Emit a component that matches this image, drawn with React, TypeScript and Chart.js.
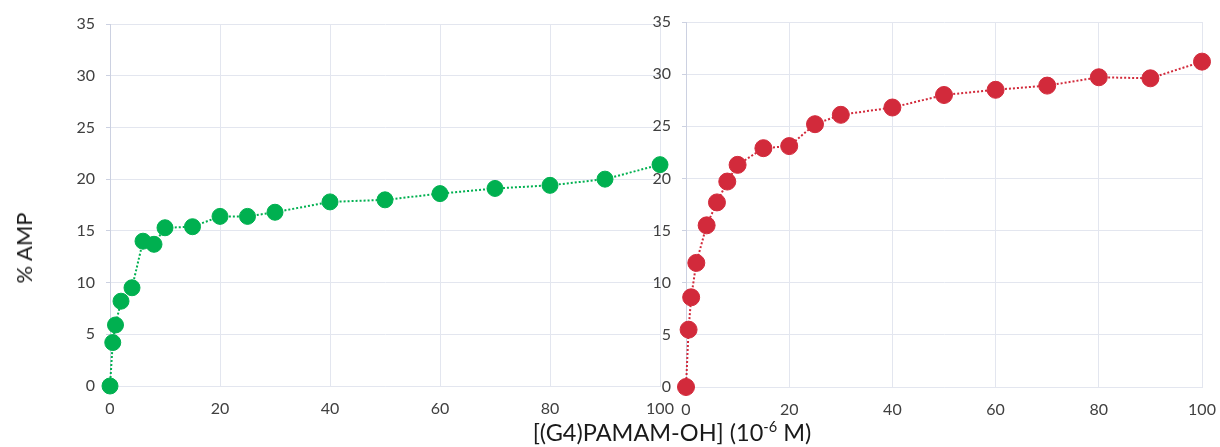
import React, { useEffect, useRef } from "react";
import { Chart, registerables } from "chart.js";

Chart.register(...registerables);

// Concentration of [(G4)PAMAM-OH] in 10^-6 M
const concentrations = [0, 0.5, 1, 2, 4, 6, 8, 10, 15, 20, 25, 30, 40, 50, 60, 70, 80, 90, 100];
// % AMP, left panel (green)
const greenValues = [0, 4.2, 5.9, 8.2, 9.5, 14.0, 13.7, 15.3, 15.4, 16.4, 16.4, 16.8, 17.8, 18.0, 18.6, 19.1, 19.4, 20.0, 21.4];
// % AMP, right panel (red)
const redValues = [0, 5.5, 8.6, 11.9, 15.5, 17.7, 19.7, 21.3, 22.9, 23.1, 25.2, 26.1, 26.8, 28.0, 28.5, 28.9, 29.7, 29.6, 31.2];

const xMin = 0;
const xMax = 100;
const xStep = 20;
const yMin = 0;
const yMax = 35;
const yStep = 5;

const yTitle = "% AMP";
const xTitleMain = "[(G4)PAMAM-OH] (10";
const xTitleSup = "-6";
const xTitleEnd = " M)";

const FONT = "Lato, 'Open Sans', sans-serif";
const GREEN = "#00b050";
const RED = "#d22a3b";
const GRID = "#e3e6ef";
const AXIS = "#ccd1e1";
const TICK = "#404040";

type Geom = {
  width: number;
  height: number;
  yAxisWidth: number;
  xAxisHeight: number;
  padTop: number;
  padRight: number;
};

function makeConfig(values: number[], color: string, radius: number, g: Geom): any {
  return {
    type: "line",
    data: {
      datasets: [
        {
          data: concentrations.map((x, i) => ({ x, y: values[i] })),
          borderColor: color,
          backgroundColor: color,
          borderWidth: 2,
          borderDash: [2, 2],
          pointRadius: radius,
          pointHoverRadius: radius,
          pointBackgroundColor: color,
          pointBorderColor: color,
          pointBorderWidth: 1,
          tension: 0,
          fill: false,
          clip: false,
        },
      ],
    },
    options: {
      responsive: false,
      animation: false,
      events: [],
      layout: { padding: { left: 0, right: g.padRight, top: g.padTop, bottom: 0 } },
      plugins: { legend: { display: false }, tooltip: { enabled: false }, title: { display: false } },
      scales: {
        x: {
          type: "linear",
          min: xMin,
          max: xMax,
          afterFit: (s: any) => {
            s.height = g.xAxisHeight;
            s.paddingLeft = 0;
            s.paddingRight = 0;
          },
          ticks: {
            stepSize: xStep,
            font: { family: FONT, size: 16 },
            color: TICK,
            padding: 13,
            maxRotation: 0,
          },
          grid: { color: GRID, lineWidth: 1, drawTicks: false },
          border: { color: GRID, width: 1 },
        },
        y: {
          type: "linear",
          min: yMin,
          max: yMax,
          afterFit: (s: any) => {
            s.width = g.yAxisWidth;
            s.paddingTop = 0;
            s.paddingBottom = 0;
          },
          ticks: {
            stepSize: yStep,
            font: { family: FONT, size: 16 },
            color: TICK,
            padding: 11,
          },
          grid: { color: GRID, lineWidth: 1, tickLength: 4, tickColor: AXIS },
          border: { color: AXIS, width: 1 },
        },
      },
    },
  };
}

function Panel(props: { values: number[]; color: string; radius: number; left: number; geom: Geom }) {
  const ref = useRef<HTMLCanvasElement | null>(null);
  useEffect(() => {
    if (!ref.current) return;
    const chart = new Chart(ref.current, makeConfig(props.values, props.color, props.radius, props.geom));
    return () => chart.destroy();
  }, []);
  return (
    <canvas
      ref={ref}
      width={props.geom.width}
      height={props.geom.height}
      style={{
        position: "absolute",
        left: props.left,
        top: 0,
        width: props.geom.width,
        height: props.geom.height,
      }}
    />
  );
}

export default function App() {
  const leftGeom: Geom = { width: 680, height: 447, yAxisWidth: 110, xAxisHeight: 61, padTop: 24, padRight: 20 };
  const rightGeom: Geom = { width: 620, height: 447, yAxisWidth: 86, xAxisHeight: 60, padTop: 22, padRight: 18 };
  return (
    <div
      style={{
        position: "absolute",
        left: 0,
        top: 0,
        width: 1220,
        height: 447,
        background: "#ffffff",
        overflow: "hidden",
        fontFamily: FONT,
      }}
    >
      <Panel values={greenValues} color={GREEN} radius={8} left={0} geom={leftGeom} />
      <Panel values={redValues} color={RED} radius={8.5} left={600} geom={rightGeom} />
      <div
        style={{
          position: "absolute",
          left: 23.5,
          top: 248,
          transform: "translate(-50%, -50%) rotate(-90deg)",
          fontSize: 22,
          lineHeight: 1,
          whiteSpace: "nowrap",
          color: "#1a1a1a",
        }}
      >
        {yTitle}
      </div>
      <div
        style={{
          position: "absolute",
          left: 672,
          top: 433,
          transform: "translate(-50%, -50%)",
          fontSize: 23.5,
          lineHeight: 1,
          whiteSpace: "nowrap",
          color: "#1a1a1a",
        }}
      >
        {xTitleMain}
        <span style={{ fontSize: "0.62em", position: "relative", top: "-0.6em" }}>{xTitleSup}</span>
        {xTitleEnd}
      </div>
    </div>
  );
}
